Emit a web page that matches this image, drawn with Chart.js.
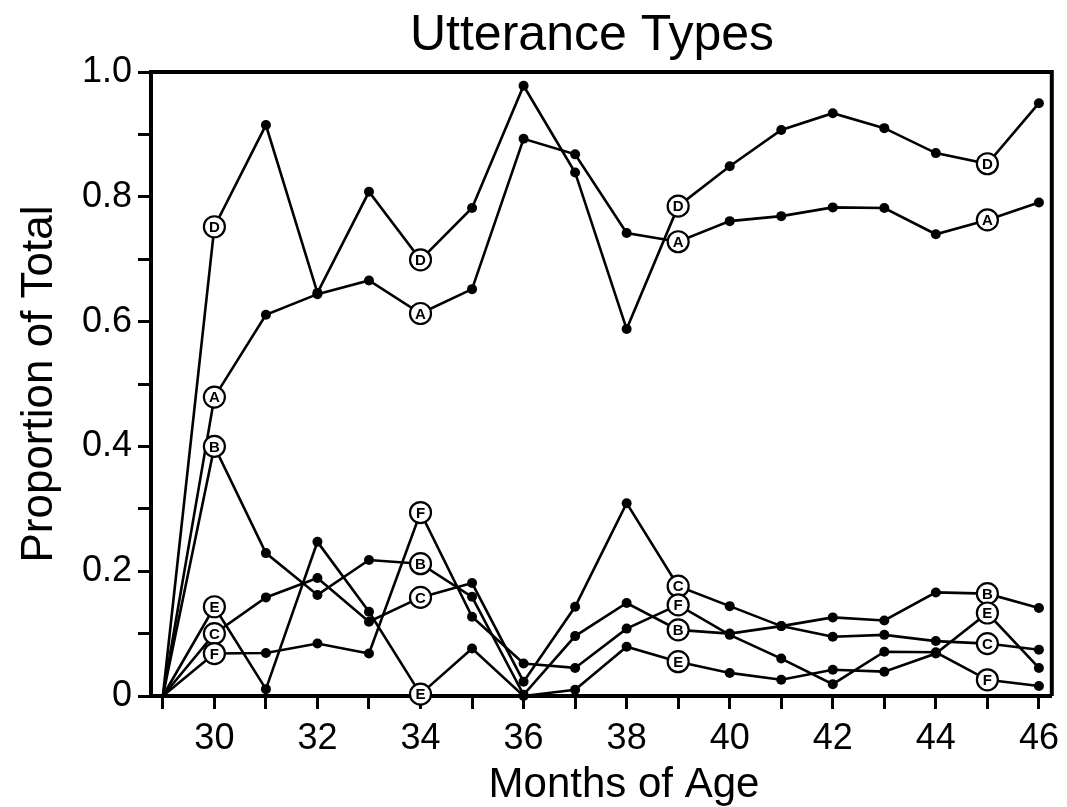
<!DOCTYPE html>
<html>
<head>
<meta charset="utf-8">
<title>Utterance Types</title>
<script src="https://cdn.jsdelivr.net/npm/chart.js@4.4.1/dist/chart.umd.min.js"></script>
<style>
    html, body { margin: 0; padding: 0; background: #fff; }
    #contenedor { width: 1067px; height: 807px; }
</style>
</head>
<body>
<div id="contenedor"><canvas id="myChart" width="1067" height="807"></canvas></div>
<script>
// datos (meses de edad y proporcion del total)
var meses = [29, 30, 31, 32, 33, 34, 35, 36, 37, 38, 39, 40, 41, 42, 43, 44, 45, 46];
var serieA = [0, 0.479, 0.611, 0.644, 0.666, 0.613, 0.652, 0.893, 0.868, 0.742, 0.728, 0.761, 0.769, 0.783, 0.782, 0.740, 0.763, 0.791];
var serieB = [0, 0.400, 0.229, 0.162, 0.218, 0.212, 0.159, 0.002, 0.096, 0.149, 0.106, 0.100, 0.112, 0.126, 0.121, 0.166, 0.164, 0.141];
var serieC = [0, 0.100, 0.158, 0.189, 0.119, 0.158, 0.181, 0.023, 0.143, 0.309, 0.176, 0.144, 0.112, 0.095, 0.098, 0.088, 0.084, 0.074];
var serieD = [0, 0.752, 0.915, 0.646, 0.808, 0.699, 0.782, 0.978, 0.839, 0.588, 0.785, 0.849, 0.907, 0.934, 0.910, 0.870, 0.853, 0.950];
var serieE = [0, 0.143, 0.011, 0.247, 0.135, 0.003, 0.076, 0.000, 0.010, 0.079, 0.055, 0.037, 0.026, 0.042, 0.039, 0.068, 0.133, 0.045];
var serieF = [0, 0.068, 0.069, 0.084, 0.068, 0.294, 0.127, 0.052, 0.045, 0.108, 0.146, 0.098, 0.060, 0.019, 0.071, 0.070, 0.026, 0.016];

var letras = ['A', 'B', 'C', 'D', 'E', 'F'];
var mesesConLetra = [30, 34, 39, 45];   // puntos marcados con la letra en un circulo

var marcasY = [0, 0.1, 0.2, 0.3, 0.4, 0.5, 0.6, 0.7, 0.8, 0.9, 1.0];
var etiquetasY = [0, 0.2, 0.4, 0.6, 0.8, 1.0];
var etiquetasX = [30, 32, 34, 36, 38, 40, 42, 44, 46];

var tituloGrafico = 'Utterance Types';
var tituloX = 'Months of Age';
var tituloY = 'Proportion of Total';

var fuente = '"Liberation Sans", Arial, Helvetica, sans-serif';
var series = [serieA, serieB, serieC, serieD, serieE, serieF];

function armarPuntos(valores) {
    return valores.map(function (v, i) {
        return { x: meses[i], y: v };
    });
}

function tieneLetra(ctx) {
    return mesesConLetra.indexOf(meses[ctx.dataIndex]) !== -1;
}

var datasets = series.map(function (serie, i) {
    return {
        label: letras[i],
        data: armarPuntos(serie),
        borderColor: '#000',
        borderWidth: 2.6,
        backgroundColor: '#000',
        tension: 0,
        clip: false,
        pointRadius: function (ctx) {
            if (ctx.dataIndex === 0) return 0;
            if (tieneLetra(ctx)) return 0;   // se dibuja en el plugin
            return 5;
        },
        pointBackgroundColor: '#000',
        pointBorderWidth: 0,
        pointHoverRadius: 0
    };
});

//titulos: arriba, eje x y eje y
var pluginTitulos = {
    id: 'titulos',
    afterDraw: function (chart) {
        var ctx = chart.ctx;
        var area = chart.chartArea;
        ctx.save();
        ctx.fillStyle = '#000';
        ctx.textAlign = 'center';

        ctx.font = '50px ' + fuente;
        ctx.textBaseline = 'alphabetic';
        ctx.fillText(tituloGrafico, 592, 50);

        ctx.font = '42px ' + fuente;
        ctx.textBaseline = 'middle';
        ctx.fillText(tituloX, 624, 785);

        ctx.translate(40, (area.top + area.bottom) / 2);
        ctx.rotate(-Math.PI / 2);
        ctx.font = '44px ' + fuente;
        ctx.fillText(tituloY, 0, 0);
        ctx.restore();
    }
};

//marco de arriba y derecha
var pluginMarco = {
    id: 'marco',
    beforeDatasetsDraw: function (chart) {
        var ctx = chart.ctx;
        var a = chart.chartArea;
        ctx.save();
        ctx.strokeStyle = '#000';
        ctx.lineWidth = 4;
        ctx.beginPath();
        ctx.moveTo(a.left, a.top);
        ctx.lineTo(a.right, a.top);
        ctx.lineTo(a.right, a.bottom);
        ctx.stroke();
        ctx.restore();
    }
};

//circulos con letra sobre las lineas
var pluginLetras = {
    id: 'letras',
    afterDatasetsDraw: function (chart) {
        var ctx = chart.ctx;
        ctx.save();
        chart.data.datasets.forEach(function (ds, i) {
            var meta = chart.getDatasetMeta(i);
            meta.data.forEach(function (el, idx) {
                if (mesesConLetra.indexOf(meses[idx]) === -1) return;
                ctx.beginPath();
                ctx.arc(el.x, el.y, 10.5, 0, Math.PI * 2);
                ctx.fillStyle = '#fff';
                ctx.fill();
                ctx.lineWidth = 2.2;
                ctx.strokeStyle = '#000';
                ctx.stroke();
                ctx.fillStyle = '#000';
                ctx.font = 'bold 15px ' + fuente;
                ctx.textAlign = 'center';
                ctx.textBaseline = 'middle';
                ctx.fillText(ds.label, el.x, el.y + 1);
            });
        });
        ctx.restore();
    }
};

var ctx = document.getElementById('myChart').getContext('2d');
var myChart = new Chart(ctx, {
    type: 'line',
    data: { datasets: datasets },
    plugins: [pluginMarco, pluginLetras, pluginTitulos],
    options: {
        responsive: false,
        animation: false,
        devicePixelRatio: 1,
        layout: { padding: { top: 72, right: 5, left: 0, bottom: 0 } },
        plugins: {
            legend: { display: false },
            title: { display: false },
            tooltip: { enabled: false }
        },
        scales: {
            x: {
                type: 'linear',
                min: 28.77,
                max: 46.25,
                afterBuildTicks: function (s) {
                    s.ticks = meses.map(function (m) { return { value: m }; });
                },
                afterFit: function (s) { s.height = 111; },
                ticks: {
                    autoSkip: false,
                    maxRotation: 0,
                    color: '#000',
                    padding: 8,
                    font: { size: 36, family: fuente },
                    callback: function (v) {
                        return etiquetasX.indexOf(v) !== -1 ? String(v) : '';
                    }
                },
                grid: { drawOnChartArea: false, tickLength: 13, tickWidth: 3, tickColor: '#000' },
                border: { display: true, color: '#000', width: 4 }
            },
            y: {
                min: 0,
                max: 1,
                afterBuildTicks: function (s) {
                    s.ticks = marcasY.map(function (m) { return { value: m }; });
                },
                afterFit: function (s) { s.width = 151; },
                ticks: {
                    autoSkip: false,
                    color: '#000',
                    padding: 6,
                    font: { size: 36, family: fuente },
                    callback: function (v) {
                        var r = Math.round(v * 10) / 10;
                        if (etiquetasY.indexOf(r) === -1) return '';
                        return r === 0 ? '0' : r.toFixed(1);
                    }
                },
                grid: { drawOnChartArea: false, tickLength: 13, tickWidth: 3, tickColor: '#000' },
                border: { display: true, color: '#000', width: 4 }
            }
        }
    }
});
</script>
</body>
</html>
